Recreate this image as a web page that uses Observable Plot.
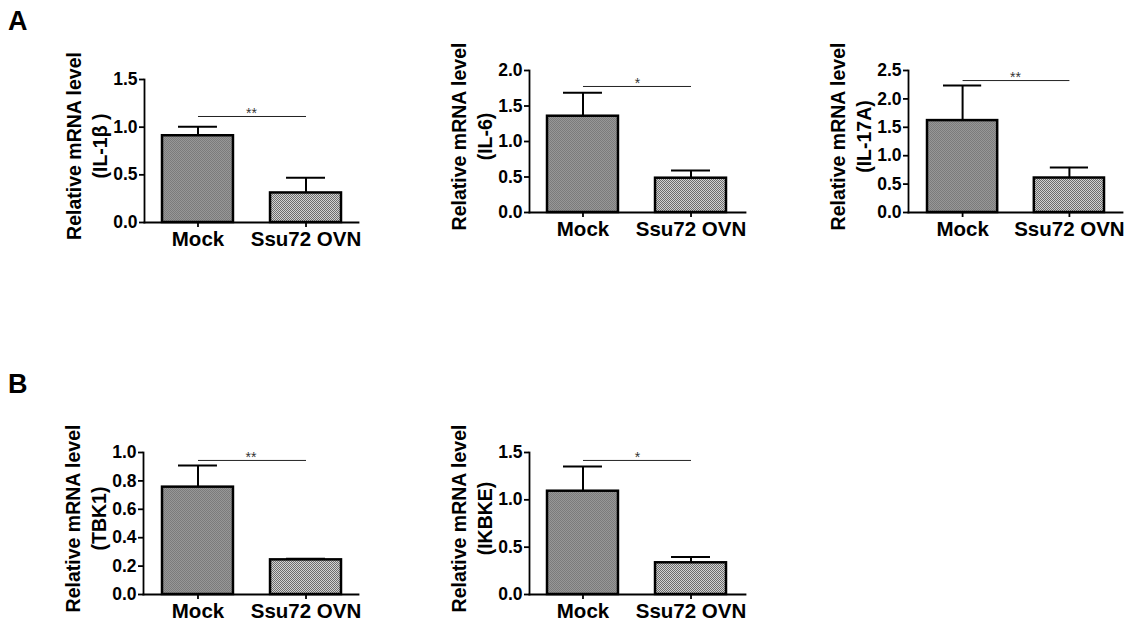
<!DOCTYPE html>
<html><head><meta charset="utf-8">
<script src="https://cdn.jsdelivr.net/npm/d3@7"></script>
<script src="https://cdn.jsdelivr.net/npm/@observablehq/plot@0.6"></script>
<style>
html,body{margin:0;padding:0;background:#fff;}
#fig{position:relative;width:1139px;height:628px;overflow:hidden;background:#fff;font-family:"Liberation Sans",Arial,sans-serif;}
.panel{position:absolute;}
.letter{position:absolute;font-weight:bold;font-size:27px;line-height:27px;color:#000;}
</style></head><body>
<svg width="0" height="0" style="position:absolute">
  <defs>
    <pattern id="patMock" width="2" height="2" patternUnits="userSpaceOnUse">
      <rect width="2" height="2" fill="#979797"/>
      <rect x="0" y="0" width="1" height="1" fill="#7b7b7b"/>
      <rect x="1" y="1" width="1" height="1" fill="#7b7b7b"/>
    </pattern>
    <pattern id="patOvn" width="2" height="2" patternUnits="userSpaceOnUse">
      <rect width="2" height="2" fill="#d2d2d2"/>
      <rect x="0" y="0" width="1" height="1" fill="#6c6c6c"/>
      <rect x="1" y="1" width="1" height="1" fill="#6c6c6c"/>
    </pattern>
  </defs>
</svg>
<div id="fig">
  <div class="letter" style="left:8px;top:8px">A</div>
  <div class="letter" style="left:8px;top:371px">B</div>
</div>
<script>
// ---- data ----
const groups = ["Mock", "Ssu72 OVN"];
const yTitle = "Relative mRNA level";
const genes = ["(IL-1β )", "(IL-6)", "(IL-17A)", "(TBK1)", "(IKBKE)"];
const il1bMean = [0.91, 0.31],  il1bErr = [0.095, 0.16];
const il6Mean = [1.356, 0.483], il6Err = [0.33, 0.107];
const il17aMean = [1.618, 0.607], il17aErr = [0.617, 0.187];
const tbk1Mean = [0.756, 0.244], tbk1Err = [0.152, 0.007];
const ikbkeMean = [1.091, 0.335], ikbkeErr = [0.26, 0.06];
const il1bTicks = [0, 0.5, 1.0, 1.5];
const il6Ticks = [0, 0.5, 1.0, 1.5, 2.0];
const il17aTicks = [0, 0.5, 1.0, 1.5, 2.0, 2.5];
const tbk1Ticks = [0, 0.2, 0.4, 0.6, 0.8, 1.0];
const ikbkeTicks = [0, 0.5, 1.0, 1.5];
const sigText = ["**", "*", "**", "**", "*"];
const sigLevel = [1.112, 1.775, 2.323, 0.944, 1.416];

// ---- layout (positions/styles only) ----
const layout = [
  {left: 0,   top: 40,  w: 380, h: 230, ml: 144, mr: 22, mt: 39, mb: 48, xr: [162, 341]},
  {left: 380, top: 40,  w: 380, h: 230, ml: 149, mr: 15, mt: 30, mb: 58, xr: [167, 346]},
  {left: 760, top: 40,  w: 379, h: 230, ml: 148, mr: 17, mt: 30, mb: 58, xr: [167, 344]},
  {left: 0,   top: 400, w: 380, h: 228, ml: 143, mr: 22, mt: 52, mb: 34, xr: [162, 341]},
  {left: 380, top: 400, w: 380, h: 228, ml: 149, mr: 15, mt: 52, mb: 34, xr: [167, 346]}
];
const series = [
  {mean: il1bMean, err: il1bErr, ticks: il1bTicks},
  {mean: il6Mean, err: il6Err, ticks: il6Ticks},
  {mean: il17aMean, err: il17aErr, ticks: il17aTicks},
  {mean: tbk1Mean, err: tbk1Err, ticks: tbk1Ticks},
  {mean: ikbkeMean, err: ikbkeErr, ticks: ikbkeTicks}
];
const fills = ["url(#patMock)", "url(#patOvn)"];
const fig = document.getElementById("fig");

series.forEach((s, k) => {
  const L = layout[k];
  const data = groups.map((g, i) => ({group: g, mean: s.mean[i], upper: s.mean[i] + s.err[i]}));
  const ymax = s.ticks[s.ticks.length - 1];
  const svg = Plot.plot({
    width: L.w, height: L.h,
    marginLeft: L.ml, marginRight: L.mr, marginTop: L.mt, marginBottom: L.mb,
    style: {fontFamily: "'Liberation Sans', Arial, sans-serif", fontWeight: "bold", background: "transparent", overflow: "visible", color: "#000"},
    x: {type: "band", domain: groups, range: L.xr, paddingInner: 0.343, paddingOuter: 0, round: false, label: null},
    y: {domain: [0, ymax], label: null},
    marks: [
      Plot.ruleX(data, {x: "group", y1: "mean", y2: "upper", stroke: "#000", strokeWidth: 2}),
      Plot.tickY(data, {x: "group", y: "upper", stroke: "#000", strokeWidth: 2, insetLeft: 16, insetRight: 16}),
      Plot.barY(data.filter(d => d.group === groups[0]), {x: "group", y: "mean", fill: fills[0], stroke: "#000", strokeWidth: 2.5}),
      Plot.barY(data.filter(d => d.group === groups[1]), {x: "group", y: "mean", fill: fills[1], stroke: "#000", strokeWidth: 2.5}),
      Plot.frame({anchor: "left", stroke: "#000", strokeWidth: 1.8}),
      Plot.frame({anchor: "bottom", stroke: "#000", strokeWidth: 1.8}),
      Plot.axisY({ticks: s.ticks, tickFormat: d3.format(".1f"), tickSize: 5, tickPadding: 2, fontSize: 17.5, fontWeight: "bold", strokeWidth: 1.8, label: null}),
      Plot.axisX({tickSize: 5, tickPadding: 4, fontSize: 20.5, fontWeight: "bold", strokeWidth: 1.8, label: null}),
      Plot.text([yTitle + "\n" + genes[k]], {text: d => d, frameAnchor: "left", rotate: -90, dx: -59, dy: -5, fontSize: 19.5, fontWeight: "bold", lineHeight: 1.33, lineAnchor: "middle", textAnchor: "middle"}),
      Plot.link([sigLevel[k]], {x1: () => groups[0], x2: () => groups[1], y1: d => d, y2: d => d, stroke: "#222", strokeWidth: 1}),
      Plot.text([sigLevel[k]], {y: d => d, text: () => sigText[k], fontSize: 14, fontWeight: "normal", fill: "#333", lineAnchor: "middle", dy: -3})
    ]
  });
  const div = document.createElement("div");
  div.className = "panel";
  div.style.left = L.left + "px";
  div.style.top = L.top + "px";
  div.style.width = L.w + "px";
  div.style.height = L.h + "px";
  div.appendChild(svg);
  fig.appendChild(div);
});
</script>
</body></html>
